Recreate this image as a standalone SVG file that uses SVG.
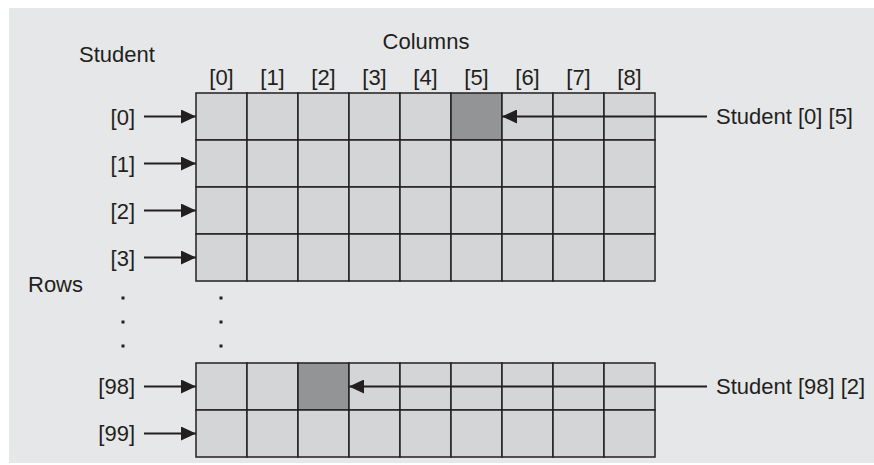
<svg xmlns="http://www.w3.org/2000/svg" width="874" height="465" viewBox="0 0 874 465">
<style>
text{font-family:"Liberation Sans",Arial,sans-serif;font-size:22px;fill:#231f20}
.c{fill:#d4d5d6;stroke:#231f20;stroke-width:1.5}
.d{fill:#939496;stroke:#231f20;stroke-width:1.5}
.ln{stroke:#231f20;stroke-width:2;fill:none}
.dot{fill:#231f20}
</style>
<defs>
<marker id="ah" viewBox="0 0 15 14" refX="15" refY="7" markerWidth="15" markerHeight="14" markerUnits="userSpaceOnUse" orient="auto">
<path d="M0,0 L15,7 L0,14 Z" fill="#231f20"/>
</marker>
</defs>
<rect x="9" y="8" width="865" height="455" fill="#e6e7e8"/>
<g id="labels">
<text x="79" y="62">Student</text>
<text x="426" y="49" text-anchor="middle">Columns</text>
<text x="28" y="292">Rows</text>
<g text-anchor="middle">
<text x="221.5" y="85">[0]</text><text x="272.5" y="85">[1]</text><text x="323.5" y="85">[2]</text>
<text x="374.5" y="85">[3]</text><text x="425.5" y="85">[4]</text><text x="476.5" y="85">[5]</text>
<text x="527.5" y="85">[6]</text><text x="578.5" y="85">[7]</text><text x="629.5" y="85">[8]</text>
</g>
<g text-anchor="end">
<text x="135" y="124.5">[0]</text><text x="135" y="171.5">[1]</text><text x="135" y="218.5">[2]</text>
<text x="135" y="265.5">[3]</text><text x="135" y="394">[98]</text><text x="135" y="441">[99]</text>
</g>
</g>
<g id="dots">
<rect class="dot" x="121.5" y="296.5" width="3" height="3"/><rect class="dot" x="121.5" y="320.5" width="3" height="3"/><rect class="dot" x="121.5" y="344.5" width="3" height="3"/>
<rect class="dot" x="219.5" y="296.5" width="3" height="3"/><rect class="dot" x="219.5" y="320.5" width="3" height="3"/><rect class="dot" x="219.5" y="344.5" width="3" height="3"/>
</g>
<g id="grid-top">
<rect class="c" x="196" y="93" width="51" height="47"/><rect class="c" x="247" y="93" width="51" height="47"/><rect class="c" x="298" y="93" width="51" height="47"/><rect class="c" x="349" y="93" width="51" height="47"/><rect class="c" x="400" y="93" width="51" height="47"/><rect class="d" x="451" y="93" width="51" height="47"/><rect class="c" x="502" y="93" width="51" height="47"/><rect class="c" x="553" y="93" width="51" height="47"/><rect class="c" x="604" y="93" width="51" height="47"/>
<rect class="c" x="196" y="140" width="51" height="47"/><rect class="c" x="247" y="140" width="51" height="47"/><rect class="c" x="298" y="140" width="51" height="47"/><rect class="c" x="349" y="140" width="51" height="47"/><rect class="c" x="400" y="140" width="51" height="47"/><rect class="c" x="451" y="140" width="51" height="47"/><rect class="c" x="502" y="140" width="51" height="47"/><rect class="c" x="553" y="140" width="51" height="47"/><rect class="c" x="604" y="140" width="51" height="47"/>
<rect class="c" x="196" y="187" width="51" height="47"/><rect class="c" x="247" y="187" width="51" height="47"/><rect class="c" x="298" y="187" width="51" height="47"/><rect class="c" x="349" y="187" width="51" height="47"/><rect class="c" x="400" y="187" width="51" height="47"/><rect class="c" x="451" y="187" width="51" height="47"/><rect class="c" x="502" y="187" width="51" height="47"/><rect class="c" x="553" y="187" width="51" height="47"/><rect class="c" x="604" y="187" width="51" height="47"/>
<rect class="c" x="196" y="234" width="51" height="47"/><rect class="c" x="247" y="234" width="51" height="47"/><rect class="c" x="298" y="234" width="51" height="47"/><rect class="c" x="349" y="234" width="51" height="47"/><rect class="c" x="400" y="234" width="51" height="47"/><rect class="c" x="451" y="234" width="51" height="47"/><rect class="c" x="502" y="234" width="51" height="47"/><rect class="c" x="553" y="234" width="51" height="47"/><rect class="c" x="604" y="234" width="51" height="47"/>
</g>
<g id="grid-bottom">
<rect class="c" x="196" y="363" width="51" height="47"/><rect class="c" x="247" y="363" width="51" height="47"/><rect class="d" x="298" y="363" width="51" height="47"/><rect class="c" x="349" y="363" width="51" height="47"/><rect class="c" x="400" y="363" width="51" height="47"/><rect class="c" x="451" y="363" width="51" height="47"/><rect class="c" x="502" y="363" width="51" height="47"/><rect class="c" x="553" y="363" width="51" height="47"/><rect class="c" x="604" y="363" width="51" height="47"/>
<rect class="c" x="196" y="410" width="51" height="47"/><rect class="c" x="247" y="410" width="51" height="47"/><rect class="c" x="298" y="410" width="51" height="47"/><rect class="c" x="349" y="410" width="51" height="47"/><rect class="c" x="400" y="410" width="51" height="47"/><rect class="c" x="451" y="410" width="51" height="47"/><rect class="c" x="502" y="410" width="51" height="47"/><rect class="c" x="553" y="410" width="51" height="47"/><rect class="c" x="604" y="410" width="51" height="47"/>
</g>
<g id="connectors">
<line class="ln" x1="144" y1="116.5" x2="196" y2="116.5" marker-end="url(#ah)"/>
<line class="ln" x1="144" y1="163.5" x2="196" y2="163.5" marker-end="url(#ah)"/>
<line class="ln" x1="144" y1="210.5" x2="196" y2="210.5" marker-end="url(#ah)"/>
<line class="ln" x1="144" y1="257.5" x2="196" y2="257.5" marker-end="url(#ah)"/>
<line class="ln" x1="144" y1="386.5" x2="196" y2="386.5" marker-end="url(#ah)"/>
<line class="ln" x1="144" y1="433.5" x2="196" y2="433.5" marker-end="url(#ah)"/>
<line class="ln" x1="707" y1="116.5" x2="502" y2="116.5" marker-end="url(#ah)"/>
<line class="ln" x1="707" y1="386.5" x2="349" y2="386.5" marker-end="url(#ah)"/>
</g>
<g id="callouts">
<text x="716" y="124">Student [0] [5]</text>
<text x="716" y="394">Student [98] [2]</text>
</g>
</svg>
